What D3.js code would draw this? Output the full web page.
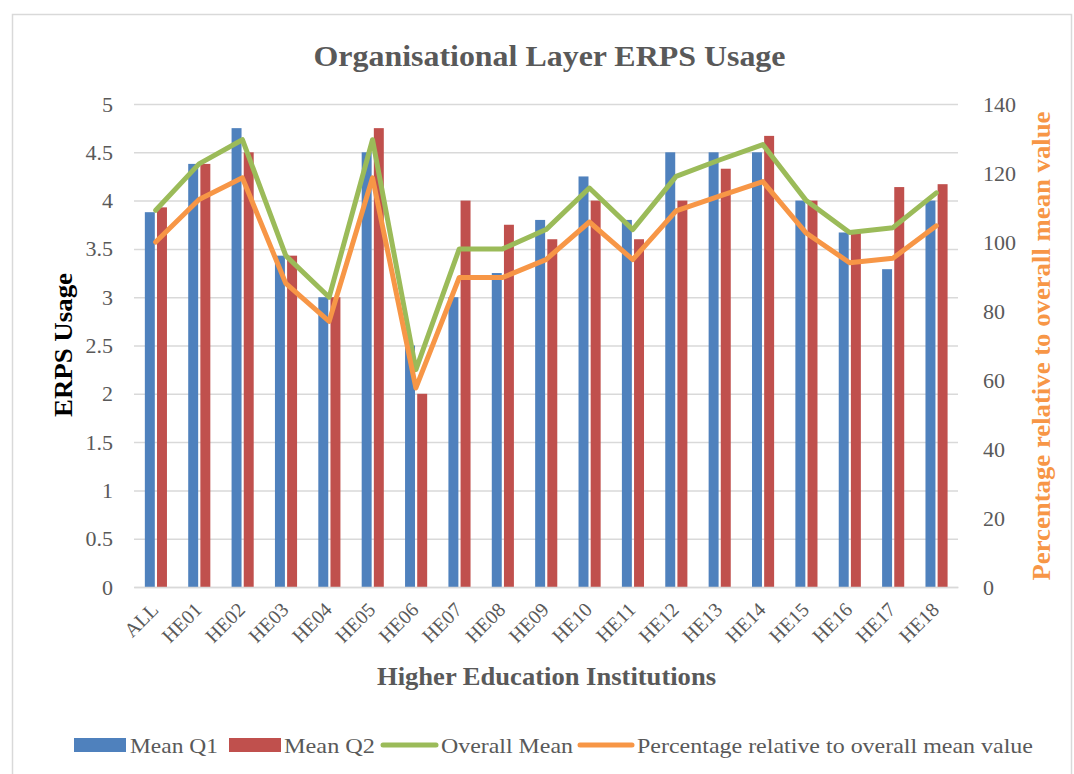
<!DOCTYPE html>
<html>
<head>
<meta charset="utf-8">
<script src="https://cdn.jsdelivr.net/npm/d3@7"></script>
<style>
  html, body { margin: 0; padding: 0; background: #fff; }
  svg { display: block; font-family: "Liberation Serif", "Times New Roman", serif; }
</style>
</head>
<body>
<svg id="chart" width="1074" height="774"></svg>
<script>
const categories = ["ALL","HE01","HE02","HE03","HE04","HE05","HE06","HE07","HE08","HE09","HE10","HE11","HE12","HE13","HE14","HE15","HE16","HE17","HE18"];
const meanQ1 = [3.88,4.38,4.75,3.43,3.0,4.5,2.5,3.0,3.25,3.8,4.25,3.8,4.5,4.5,4.5,4.0,3.67,3.29,4.0];
const meanQ2 = [3.93,4.38,4.5,3.43,3.0,4.75,2.0,4.0,3.75,3.6,4.0,3.6,4.0,4.33,4.67,4.0,3.67,4.14,4.17];
const overallMean = [3.9,4.38,4.63,3.43,3.0,4.63,2.25,3.5,3.5,3.7,4.13,3.7,4.25,4.42,4.58,4.0,3.67,3.72,4.08];
const percentage = [100,112.3,118.6,88,77,118.6,57.7,89.7,89.7,94.9,105.8,94.9,109,113.3,117.5,102.6,94,95.3,104.7];
const leftTicks = [0,0.5,1,1.5,2,2.5,3,3.5,4,4.5,5];
const rightTicks = [0,20,40,60,80,100,120,140];
const seriesNames = ["Mean Q1","Mean Q2","Overall Mean","Percentage relative to overall mean value"];

const colors = {q1:"#4F81BD", q2:"#C0504D", mean:"#9BBB59", pct:"#F79646"};
const svg = d3.select("#chart");

// outer border
svg.append("rect").attr("x",12.5).attr("y",14.5).attr("width",1059).attr("height",800)
  .attr("fill","none").attr("stroke","#d9d9d9").attr("stroke-width",1.5);

const plot = {left:134, right:958, top:104, bottom:587};
const x = d3.scaleBand().domain(categories).range([plot.left, plot.right]).padding(0);
const xs = d3.scaleBand().domain(["q1","q2"]).range([x.bandwidth()*0.25, x.bandwidth()*0.76]).paddingInner(0.18);
const yL = d3.scaleLinear().domain([0,5]).range([plot.bottom, plot.top]);
const yR = d3.scaleLinear().domain([0,140]).range([plot.bottom, plot.top]);

// gridlines
const grid = svg.append("g").attr("transform",`translate(${plot.left},0)`)
  .call(d3.axisLeft(yL).tickValues(leftTicks).tickSize(-(plot.right-plot.left)).tickFormat(""));
grid.select(".domain").remove();
grid.selectAll("line").attr("stroke","#d9d9d9").attr("stroke-width",1.5);

// left axis labels
const la = svg.append("g").attr("transform",`translate(${plot.left},0)`)
  .call(d3.axisLeft(yL).tickValues(leftTicks).tickSize(0).tickPadding(21).tickFormat(d3.format("")));
la.select(".domain").remove();
la.selectAll("text").attr("font-size",22).attr("fill","#595959").attr("font-family","Liberation Serif");

// right axis labels
const ra = svg.append("g").attr("transform",`translate(${plot.right},0)`)
  .call(d3.axisRight(yR).tickValues(rightTicks).tickSize(0).tickPadding(25));
ra.select(".domain").remove();
ra.selectAll("text").attr("font-size",22).attr("fill","#595959").attr("font-family","Liberation Serif");

// bars
const bars = svg.append("g");
categories.forEach((c,i) => {
  bars.append("rect").attr("x", x(c)+xs("q1")).attr("width", xs.bandwidth())
    .attr("y", yL(meanQ1[i])).attr("height", yL(0)-yL(meanQ1[i])).attr("fill", colors.q1);
  bars.append("rect").attr("x", x(c)+xs("q2")).attr("width", xs.bandwidth())
    .attr("y", yL(meanQ2[i])).attr("height", yL(0)-yL(meanQ2[i])).attr("fill", colors.q2);
});

// x axis
const xa = svg.append("g").attr("transform",`translate(0,${plot.bottom})`)
  .call(d3.axisBottom(x).tickSize(0));
xa.select(".domain").attr("stroke","#d9d9d9").attr("stroke-width",1.5);
xa.selectAll("text").attr("font-size",20).attr("fill","#595959").attr("font-family","Liberation Serif")
  .attr("x",0).attr("y",0).attr("dy",0).attr("text-anchor","end")
  .attr("transform","translate(4,24) rotate(-45)");

// lines
const cx = c => x(c) + x.bandwidth()/2;
const lineL = d3.line().x((d,i)=>cx(categories[i])).y(d=>yL(d));
const lineR = d3.line().x((d,i)=>cx(categories[i])).y(d=>yR(d));
svg.append("path").datum(overallMean).attr("d",lineL).attr("fill","none")
  .attr("stroke",colors.mean).attr("stroke-width",5).attr("stroke-linejoin","round").attr("stroke-linecap","round");
svg.append("path").datum(percentage).attr("d",lineR).attr("fill","none")
  .attr("stroke",colors.pct).attr("stroke-width",5).attr("stroke-linejoin","round").attr("stroke-linecap","round");

// title
svg.append("text").attr("x",549.5).attr("y",66).attr("text-anchor","middle")
  .attr("font-size",29).attr("font-weight","bold").attr("fill","#595959")
  .attr("textLength",472).attr("lengthAdjust","spacingAndGlyphs")
  .text("Organisational Layer ERPS Usage");

// axis titles
svg.append("text").attr("transform","translate(72,345) rotate(-90)").attr("text-anchor","middle")
  .attr("font-size",26).attr("font-weight","bold").attr("fill","#000")
  .attr("textLength",144).attr("lengthAdjust","spacingAndGlyphs")
  .text("ERPS Usage");
svg.append("text").attr("transform","translate(1050,346) rotate(-90)").attr("text-anchor","middle")
  .attr("font-size",26).attr("font-weight","bold").attr("fill",colors.pct)
  .attr("textLength",469).attr("lengthAdjust","spacingAndGlyphs")
  .text("Percentage relative to overall mean value");
svg.append("text").attr("x",546.5).attr("y",685).attr("text-anchor","middle")
  .attr("font-size",25).attr("font-weight","bold").attr("fill","#595959")
  .attr("textLength",339).attr("lengthAdjust","spacingAndGlyphs")
  .text("Higher Education Institutions");

// legend
const lg = svg.append("g").attr("font-size",22).attr("fill","#595959");
const legY = 745;
lg.append("rect").attr("x",74).attr("y",legY-7).attr("width",52).attr("height",14).attr("fill",colors.q1);
lg.append("text").attr("x",130).attr("y",legY+8).attr("textLength",88).attr("lengthAdjust","spacingAndGlyphs").text(seriesNames[0]);
lg.append("rect").attr("x",229).attr("y",legY-7).attr("width",52).attr("height",14).attr("fill",colors.q2);
lg.append("text").attr("x",284).attr("y",legY+8).attr("textLength",91).attr("lengthAdjust","spacingAndGlyphs").text(seriesNames[1]);
lg.append("line").attr("x1",383).attr("x2",436).attr("y1",legY).attr("y2",legY)
  .attr("stroke",colors.mean).attr("stroke-width",5).attr("stroke-linecap","round");
lg.append("text").attr("x",441).attr("y",legY+8).attr("textLength",132).attr("lengthAdjust","spacingAndGlyphs").text(seriesNames[2]);
lg.append("line").attr("x1",580).attr("x2",632).attr("y1",legY).attr("y2",legY)
  .attr("stroke",colors.pct).attr("stroke-width",5).attr("stroke-linecap","round");
lg.append("text").attr("x",637).attr("y",legY+8).attr("textLength",396).attr("lengthAdjust","spacingAndGlyphs").text(seriesNames[3]);
</script>
</body>
</html>
